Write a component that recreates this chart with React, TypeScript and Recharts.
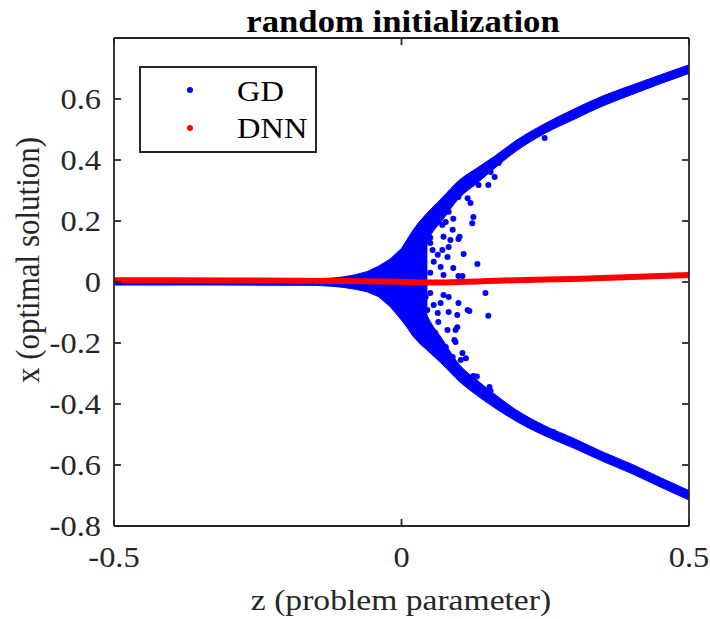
import {
  Area,
  ComposedChart,
  Line,
  ReferenceLine,
  Scatter,
  XAxis,
  YAxis,
} from 'recharts';

// GD: dense wedge around z = 0 (lower / upper edge of the filled blue region)
const wedgeZ = [-0.5, -0.3, -0.15, -0.12, -0.1, -0.08, -0.06, -0.04, -0.02, 0, 0.01, 0.02, 0.03, 0.04, 0.045];
const wedgeHigh = [0.008, 0.008, 0.01, 0.013, 0.017, 0.024, 0.034, 0.052, 0.075, 0.11, 0.14, 0.17, 0.195, 0.215, 0.225];
const wedgeLow = [-0.01, -0.01, -0.011, -0.014, -0.018, -0.024, -0.032, -0.048, -0.08, -0.125, -0.15, -0.178, -0.198, -0.215, -0.224];

// GD: the two branches after the split (inner / outer edge of each band)
const branchZ = [0.03, 0.05, 0.07, 0.1, 0.13, 0.16, 0.2, 0.25, 0.3, 0.35, 0.4, 0.45, 0.5];
const upperInner = [0.05, 0.15, 0.2, 0.275, 0.322, 0.37, 0.43, 0.488, 0.533, 0.577, 0.614, 0.65, 0.684];
const upperOuter = [0.195, 0.237, 0.275, 0.333, 0.372, 0.41, 0.465, 0.52, 0.567, 0.61, 0.645, 0.679, 0.712];
const lowerInner = [-0.05, -0.13, -0.185, -0.27, -0.32, -0.365, -0.42, -0.472, -0.513, -0.557, -0.597, -0.641, -0.684];
const lowerOuter = [-0.198, -0.233, -0.268, -0.325, -0.37, -0.41, -0.457, -0.505, -0.545, -0.588, -0.628, -0.672, -0.715];

// GD: scattered points between the branches
const gdDotZ = [
  0.249, 0.169, 0.162, 0.151, 0.155, 0.134, 0.12, 0.125, 0.123, 0.115, 0.099, 0.082, 0.09, 0.077,
  0.071, 0.089, 0.099, 0.085, 0.073, 0.05, 0.05, 0.082, 0.071, 0.054, 0.063, 0.108, 0.08, 0.056,
  0.068, 0.09, 0.05, 0.073, 0.099, 0.106, 0.132, 0.101, 0.14, 0.128,
  0.05, 0.042, 0.073, 0.082, 0.056, 0.068, 0.099, 0.045, 0.063, 0.082, 0.097, 0.064, 0.08, 0.094,
  0.059, 0.094, 0.077, 0.115, 0.106, 0.089, 0.103, 0.118, 0.151, 0.146, 0.125, 0.131, 0.153,
  0.155, 0.169, 0.19, 0.219, 0.264, 0.112, 0.097, 0.092,
];
const gdDotX = [
  0.472, 0.39, 0.344, 0.318, 0.361, 0.318, 0.259, 0.213, 0.193, 0.275, 0.279, 0.23, 0.207, 0.197,
  0.187, 0.171, 0.141, 0.138, 0.148, 0.145, 0.128, 0.115, 0.105, 0.105, 0.089, 0.092, 0.082, 0.066,
  0.049, 0.046, 0.03, 0.023, 0.02, 0.02, 0.059, 0.148, 0.35, 0.33,
  -0.036, -0.049, -0.043, -0.049, -0.075, -0.069, -0.069, -0.092, -0.102, -0.098, -0.108, -0.131, -0.157, -0.157,
  -0.167, -0.197, -0.213, -0.092, -0.233, -0.246, -0.256, -0.095, -0.111, -0.036, -0.308, -0.31, -0.344,
  -0.357, -0.397, -0.426, -0.452, -0.492, -0.25, -0.148, -0.19,
];

// DNN
const dnnZ = [-0.5, -0.3, -0.1, 0, 0.05, 0.1, 0.15, 0.2, 0.3, 0.4, 0.5];
const dnnX = [0.006, 0.005, 0.003, 0.001, -0.002, 0.0, 0.003, 0.006, 0.01, 0.016, 0.023];

const xTicks = [-0.5, 0, 0.5];
const yTicks = [-0.8, -0.6, -0.4, -0.2, 0, 0.2, 0.4, 0.6];
const zMin = -0.5;
const zMax = 0.5;
const xMin = -0.8;
const xMax = 0.8;

const wedgeData = wedgeZ.map((z, i) => ({ z, x: [wedgeLow[i], wedgeHigh[i]] }));
const upperData = branchZ.map((z, i) => ({ z, x: [upperInner[i], upperOuter[i]] }));
const lowerData = branchZ.map((z, i) => ({ z, x: [lowerOuter[i], lowerInner[i]] }));
const gdDots = gdDotZ.map((z, i) => ({ z, x: gdDotX[i] }));
const dnnData = dnnZ.map((z, i) => ({ z, x: dnnX[i] }));

const FONT = '"Liberation Serif", "Times New Roman", serif';
const AXIS = '#262626';
const BLUE = '#0000ff';
const RED = '#ff0000';
// the source figure was stretched sideways a little; text follows that
const STRETCH = 1.12;
// inward tick length, in data units (about 7px on each axis)
const TICK_Z = 0.012;
const TICK_X = 0.023;

function fmt(v: number): string {
  return v === 0 ? '0' : String(v);
}

type STextProps = {
  x: number;
  y: number;
  size: number;
  anchor?: 'start' | 'middle' | 'end';
  dy?: string;
  bold?: boolean;
  fill?: string;
  rotate?: number;
  children: React.ReactNode;
};

function SText({ x, y, size, anchor = 'start', dy, bold, fill = AXIS, rotate, children }: STextProps) {
  const rot = rotate ? ` rotate(${rotate})` : '';
  return (
    <text
      x={0}
      y={0}
      dy={dy}
      transform={`translate(${x} ${y}) scale(${STRETCH} 1)${rot}`}
      textAnchor={anchor}
      fontFamily={FONT}
      fontSize={size}
      fontWeight={bold ? 'bold' : 'normal'}
      fill={fill}
    >
      {children}
    </text>
  );
}

function LeftTick(props: any) {
  const { x, y, payload } = props;
  return (
    <SText x={x} y={y} size={29} anchor="end" dy="0.35em">
      {fmt(payload.value)}
    </SText>
  );
}

function BottomTick(props: any) {
  const { x, y, payload } = props;
  return (
    <SText x={x} y={y} size={29} anchor="middle" dy="0.71em">
      {fmt(payload.value)}
    </SText>
  );
}

export default function App() {
  const line = { stroke: AXIS, strokeWidth: 1.8 };

  return (
    <div style={{ position: 'absolute', left: 0, top: 0, width: 710, height: 619, background: '#fff' }}>
      <ComposedChart width={710} height={619} margin={{ top: 38, right: 21, left: 0, bottom: 0 }}>
        <XAxis
          dataKey="z"
          type="number"
          domain={[zMin, zMax]}
          ticks={xTicks}
          interval={0}
          allowDataOverflow
          height={93}
          tickSize={0}
          tickMargin={20}
          tick={<BottomTick />}
          axisLine={line}
          tickLine={false}
        />
        <YAxis
          type="number"
          domain={[xMin, xMax]}
          ticks={yTicks}
          interval={0}
          allowDataOverflow
          width={114}
          tickSize={0}
          tickMargin={13}
          tick={<LeftTick />}
          axisLine={line}
          tickLine={false}
        />
        <Area data={wedgeData} dataKey="x" type="linear" stroke={BLUE} strokeWidth={1} fill={BLUE} fillOpacity={1} isAnimationActive={false} />
        <Area data={upperData} dataKey="x" type="monotone" stroke={BLUE} strokeWidth={1} fill={BLUE} fillOpacity={1} isAnimationActive={false} />
        <Area data={lowerData} dataKey="x" type="monotone" stroke={BLUE} strokeWidth={1} fill={BLUE} fillOpacity={1} isAnimationActive={false} />
        <Scatter
          data={gdDots}
          dataKey="x"
          isAnimationActive={false}
          shape={(p: any) => <circle cx={p.cx} cy={p.cy} r={3} fill={BLUE} />}
        />
        <Line data={dnnData} dataKey="x" type="monotone" stroke={RED} strokeWidth={6} dot={false} isAnimationActive={false} />

        {/* box: top and right edges */}
        <ReferenceLine y={xMax} stroke={AXIS} strokeWidth={1.8} />
        <ReferenceLine x={zMax} stroke={AXIS} strokeWidth={1.8} />
        {/* inward tick marks on all four sides */}
        {yTicks.map((t) => (
          <ReferenceLine key={`l${t}`} segment={[{ x: zMin, y: t }, { x: zMin + TICK_Z, y: t }]} stroke={AXIS} strokeWidth={1.8} />
        ))}
        {yTicks.map((t) => (
          <ReferenceLine key={`r${t}`} segment={[{ x: zMax - TICK_Z, y: t }, { x: zMax, y: t }]} stroke={AXIS} strokeWidth={1.8} />
        ))}
        {xTicks.map((t) => (
          <ReferenceLine key={`b${t}`} segment={[{ x: t, y: xMin }, { x: t, y: xMin + TICK_X }]} stroke={AXIS} strokeWidth={1.8} />
        ))}
        {xTicks.map((t) => (
          <ReferenceLine key={`t${t}`} segment={[{ x: t, y: xMax - TICK_X }, { x: t, y: xMax }]} stroke={AXIS} strokeWidth={1.8} />
        ))}
      </ComposedChart>

      <svg width={710} height={619} style={{ position: 'absolute', left: 0, top: 0, pointerEvents: 'none' }}>
        <SText x={403} y={32} size={31} anchor="middle" bold fill="#000">
          random initialization
        </SText>
        <SText x={401} y={610} size={30} anchor="middle">
          z (problem parameter)
        </SText>
        <SText x={39} y={260} size={31} anchor="middle" rotate={-90}>
          x (optimal solution)
        </SText>
        <rect x={140} y={67} width={176} height={85} fill="#fff" stroke={AXIS} strokeWidth={2} />
        <circle cx={190} cy={90} r={3} fill={BLUE} />
        <circle cx={190} cy={128} r={3} fill={RED} />
        <SText x={237} y={101} size={29} fill="#000">GD</SText>
        <SText x={237} y={138} size={29} fill="#000">DNN</SText>
      </svg>
    </div>
  );
}
